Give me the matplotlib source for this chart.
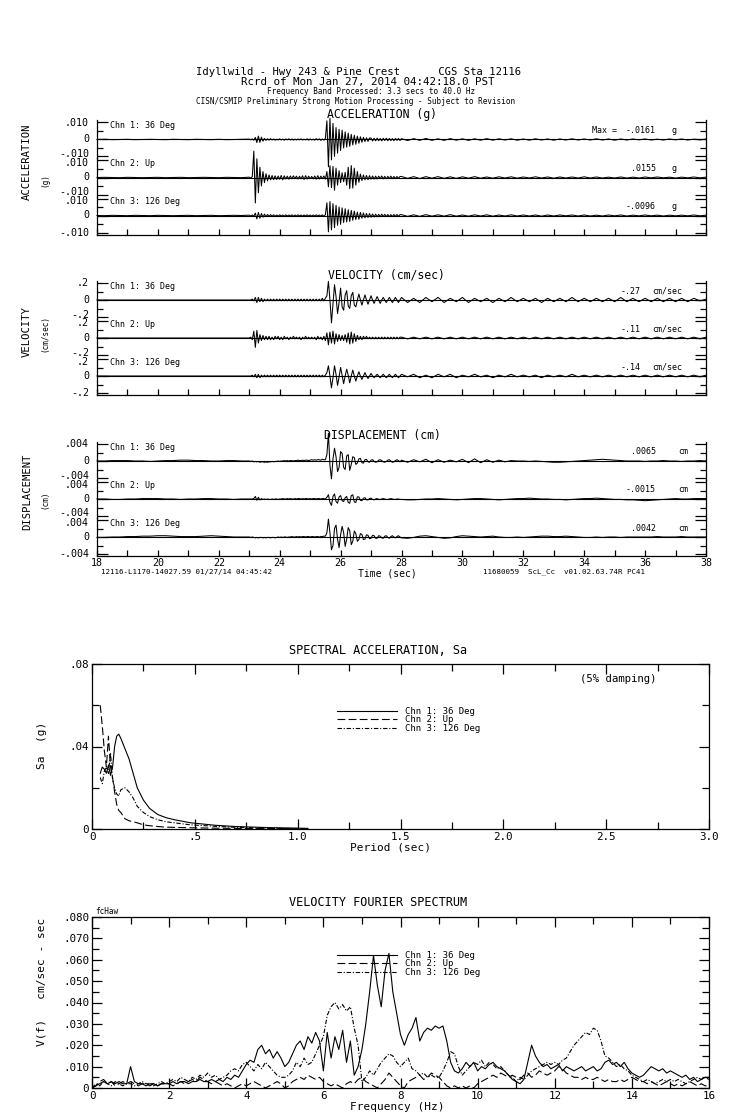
"""Record sheet: corrected strong-motion traces + response/Fourier spectra (CGS 12116)."""
import numpy as np
import matplotlib
matplotlib.use("Agg")
import matplotlib.pyplot as plt

plt.rcParams["font.family"] = "DejaVu Sans Mono"

# ---------------- data ----------------
CHANNELS = ["Chn 1: 36 Deg", "Chn 2: Up", "Chn 3: 126 Deg"]

# each trace in 3 pieces: A = 18-23 s, B = 23-28 s (dense), C = 28-38 s
# acceleration, 1e-4 g
ACC1_A = [0, 1, -1, 0, 1, -1, 0, 1, 0, -1, 1, 0, -1, 1, 0, -1, 1, -1, 0, 1]
ACC1_B = [2, -2, 3, -4, 12, -18, 20, -17, 14, -10,
          6, -5, 4, -4, 5, -3, 3, -4, 2, -3,
          4, -3, 2, -4, 3, -2, 4, -3, 3, -4,
          2, -3, 3, -2, 4, -3, 2, -3, 4, -4,
          3, -3, 2, -4, 5, -3, 4, -5, 3, -4,
          6, 110, -161, 125, -120, 95, -100, 70, -80, 60,
          -65, 55, -50, 45, -45, 38, -40, 30, -32, 25,
          -28, 20, -22, 16, -16, 13, -12, 10, -11, 9,
          8, -9, 7, -8, 8, -7, 6, -8, 7, -6,
          7, -7, 6, -6, 5, -7, 6, -5, 6, -6]
ACC1_C = [5, -6, 5, -5, 6, -5, 4, -5, 5, -4, 4, -5, 4, -4, 5, -4, 4, -3, 4, -4,
          3, -4, 4, -3, 3, -4, 3, -3, 4, -3, 3, -3, 4, -3, 3, -4, 3, -3, 3, -2,
          3, -3, 2, -3, 3, -2, 3, -3, 2, -2, 2]
ACC2_A = [0, 1, 0, -1, 1, 0, -1, 0, 1, -1, 0, 1, -1, 0, 1, 0, -1, 1, 0, -1]
ACC2_B = [2, -3, 5, 155, -150, 110, -90, 60, -50, 35,
          -30, 22, -20, 15, -14, 12, -13, 10, -12, 9,
          -11, 12, -14, 10, -9, 8, -10, 9, -8, 10,
          -7, 8, -9, 7, -8, 10, -12, 11, -9, 8,
          -7, 6, -8, 9, -10, 11, -9, 8, -7, 9,
          -10, 35, -55, 70, -60, 65, -75, 55, -45, 40,
          -30, 28, -25, 30, -45, 60, -65, 70, -62, 55,
          -45, 35, -28, 20, -18, 15, -14, 12, -13, 11,
          -10, 9, -10, 8, -9, 8, -7, 9, -8, 7,
          -8, 7, -6, 8, -7, 6, -7, 6, -5, 6]
ACC2_C = [6, -5, 5, -6, 5, -4, 5, -5, 4, -5, 4, -4, 5, -4, 3, -4, 4, -3, 4, -4,
          3, -3, 4, -3, 3, -4, 3, -3, 3, -3, 4, -3, 3, -3, 2, -3, 3, -3, 2, -3,
          3, -2, 3, -2, 2, -3, 2, -2, 3, -2, 2]
ACC3_A = [0, -1, 1, 0, -1, 1, 0, -1, 1, 0, -1, 0, 1, -1, 0, 1, -1, 0, 1, 0]
ACC3_B = [2, -3, 3, -5, 14, -20, 18, -16, 12, -10,
          8, -7, 6, -5, 5, -4, 4, -5, 3, -4,
          4, -3, 3, -4, 4, -3, 3, -3, 4, -4,
          3, -3, 4, -3, 3, -4, 3, -3, 4, -3,
          3, -4, 3, -3, 4, -3, 3, -4, 4, -5,
          5, 75, -96, 82, -85, 70, -72, 60, -58, 50,
          -52, 45, -42, 40, -38, 34, -35, 30, -28, 26,
          -24, 20, -22, 18, -16, 15, -14, 12, -12, 11,
          -10, 9, -9, 8, -8, 7, -7, 8, -6, 7,
          -6, 6, -7, 5, -6, 6, -5, 6, -5, 5]
ACC3_C = [5, -5, 4, -5, 5, -4, 4, -4, 5, -4, 3, -4, 4, -3, 4, -4, 3, -3, 4, -3,
          3, -3, 3, -4, 3, -3, 3, -2, 3, -3, 3, -3, 2, -3, 3, -2, 3, -3, 2, -2,
          3, -2, 2, -3, 2, -2, 2, -2, 3, -2, 2]

# velocity, 1e-2 cm/sec
VEL1_A = [0, 0, 0, 0, 0, 0, 0, 0, 0, 0, 0, 0, 0, 0, 0, 0, 0, 0, 0, 0]
VEL1_B = [0, 0, 1, -1, 3, -3, 3, -2, 2, -2,
          1, -1, 1, -1, 1, -1, 1, -1, 1, -1,
          1, -1, 1, -1, 1, -1, 1, -1, 1, -1,
          1, -1, 1, -1, 1, -1, 1, -1, 1, -1,
          1, -1, 1, -1, 1, -1, 1, -1, 2, -1,
          2, 5, 22, 0, -27, -5, 18, 4, -16, -3,
          14, -8, -12, 6, 11, -7, -10, 5, 9, -6,
          -8, 0, 7, 0, -6, 0, 6, 0, -5, 0,
          5, 0, -4, 0, 4, 0, -4, 0, 3, 0,
          -3, 0, 3, 0, -3, 0, 3, 0, -3, 0]
VEL1_C = [3, -3, 2, -3, 3, -2, 3, -3, 2, -2, 3, -3, 2, -2, 2, -3, 2, -2, 3, -2,
          2, -2, 2, -3, 2, -2, 2, -2, 3, -2, 2, -2, 2, -2, 2, -2, 3, -2, 2, -2,
          2, -2, 2, -2, 2, -2, 2, -2, 2, -1, 1]
VEL2_A = [0, 0, 0, 0, 0, 0, 0, 0, 0, 0, 0, 0, 0, 0, 0, 0, 0, 0, 0, 0]
VEL2_B = [0, 1, -2, 8, -11, 9, -6, 4, -3, 3,
          -2, 2, -2, 2, -2, 1, -2, 2, -1, 2,
          -2, 1, -2, 2, -1, 1, -2, 1, -1, 2,
          -1, 1, -1, 1, -2, 1, -1, 2, -1, 1,
          -1, 1, -1, 1, -2, 2, -1, 1, -2, 2,
          -3, 6, -8, 7, -6, 8, -7, 5, -4, 4,
          -3, 3, -3, 4, -5, 6, -7, 7, -6, 5,
          -4, 3, -2, 2, -2, 2, -1, 2, -1, 1,
          -1, 1, -1, 1, -1, 1, -1, 1, -1, 1,
          -1, 1, -1, 1, -1, 1, -1, 1, -1, 1]
VEL2_C = [1, -1, 1, -1, 1, -1, 1, -1, 1, -1, 1, -1, 1, -1, 1, -1, 1, -1, 1, -1,
          1, -1, 1, -1, 1, -1, 1, -1, 1, -1, 1, -1, 1, -1, 1, -1, 1, -1, 1, -1,
          1, -1, 1, -1, 1, -1, 1, -1, 1, -1, 1]
VEL3_A = [0, 0, 0, 0, 0, 0, 0, 0, 0, 0, 0, 0, 0, 0, 0, 0, 0, 0, 0, 0]
VEL3_B = [0, 0, 1, -1, 2, -2, 2, -2, 1, -1,
          1, -1, 1, -1, 1, -1, 1, -1, 1, -1,
          1, -1, 1, -1, 1, -1, 1, -1, 1, -1,
          1, -1, 1, -1, 1, -1, 1, -1, 1, -1,
          1, -1, 1, -1, 1, -1, 1, -1, 1, -1,
          1, 4, 12, 0, -14, -2, 12, 2, -11, -1,
          10, 1, -9, 0, 8, 1, -8, 0, 7, 0,
          -6, 0, 5, 0, -4, 0, 4, 0, -3, 0,
          3, 0, -2, 0, 2, 0, -2, 0, 2, 0,
          -2, 0, 2, 0, -2, 0, 2, 0, -2, 0]
VEL3_C = [2, -1, 2, -2, 1, -2, 2, -1, 2, -2, 1, -1, 2, -1, 1, -2, 1, -1, 2, -1,
          1, -1, 1, -2, 1, -1, 1, -1, 2, -1, 1, -1, 1, -1, 1, -1, 1, -1, 1, -1,
          1, -1, 1, -1, 1, -1, 1, -1, 1, -1, 1]

# displacement, 1e-4 cm
DIS1_A = [0, 0, 1, 1, 1, 0, 0, -1, 0, 1, 1, 2, 2, 1, 1, 0, 0, 1, 1, 0]
DIS1_B = [0, -1, 0, -2, -1, -2, -1, -3, -2, -2,
          -3, -2, -3, -2, -2, -1, -2, -1, -1, 0,
          -1, 0, 0, 1, 0, 1, 0, 1, 1, 0,
          1, 1, 2, 1, 1, 2, 1, 2, 2, 1,
          2, 3, 2, 3, 2, 3, 3, 2, 4, 3,
          3, 15, 65, -10, -42, 5, 30, 10, -25, -15,
          22, 18, -15, -20, 12, 15, -22, -8, 10, 8,
          -8, -5, 5, 6, -4, -5, 3, 4, -2, -3,
          2, 3, -1, -3, -2, 2, 3, 1, -2, -3,
          -1, 2, 3, 0, -3, -2, 1, 3, 1, -2]
DIS1_C = [2, -3, 3, -2, 4, -4, 3, -3, 2, -2,
          4, -4, 5, -4, 3, -3, 2, -2, 1, 0,
          0, -1, 0, -1, -2, -3, -3, -2, -1, 0,
          1, 2, 3, 4, 3, 2, 1, 0, 0, 0,
          -1, 0, 0, 1, 0, 0, -1, 0, 0, 1, 0]
DIS2_A = [0, 0, -1, -1, 0, 0, 1, 1, 1, 0, 0, -1, 0, 0, 1, 1, 0, 0, -1, 0]
DIS2_B = [0, 0, 0, 1, 6, -3, 4, -2, 1, -1,
          0, -1, 0, -1, -1, 0, -1, 0, 0, -1,
          0, 0, 1, 0, 0, 1, 0, 1, 0, 0,
          1, 0, 1, 1, 0, 1, 0, 1, 1, 0,
          1, 0, 1, 1, 0, 1, 1, 0, 1, 1,
          0, 4, 10, -8, -15, 6, 12, -6, -10, 5,
          8, -4, -6, 3, 6, -8, -10, 8, 10, -7,
          -8, 5, 5, -3, -4, 2, 3, -2, -2, 1,
          2, -1, -2, 0, 1, -1, -1, 0, 1, 0,
          -1, -1, 0, 1, 0, -1, -1, 0, 0, -1]
DIS2_C = [-1, -2, -2, -1, 0, 0, 1, 0, -1, -2,
          -1, 0, 1, 1, 0, -1, -2, -1, 0, 1,
          1, 2, 1, 0, 0, -1, -1, -2, -1, 0,
          1, 1, 2, 1, 0, -1, -1, -2, -2, -3,
          -4, -3, -2, -1, 0, 1, 0, 0, 1, 1, 1]
DIS3_A = [-1, -1, 0, 0, 1, 1, 2, 2, 3, 3, 2, 1, 1, 1, 2, 3, 2, 1, 0, 0]
DIS3_B = [0, -1, 0, -1, -2, -1, -2, -1, -1, -2,
          -1, -2, -1, -1, -2, -1, -1, -2, -1, 0,
          -1, 0, -1, 0, 0, -1, 0, 0, 1, 0,
          0, 1, 0, 1, 0, 1, 1, 0, 1, 1,
          0, 1, 1, 0, 1, 1, 0, 1, 1, 2,
          2, 10, 42, 10, -30, -20, 20, 28, -5, -25,
          5, 25, 10, -22, -5, 22, 15, -18, -10, 14,
          8, -10, -6, 8, 6, -6, -5, 5, 4, -4,
          -3, 4, 3, -3, -3, 3, 2, -2, -3, 2,
          3, -1, -3, 1, 3, 0, -2, 1, 3, 0]
DIS3_C = [-2, -3, -1, 2, 3, 1, -1, -3, -2, 1,
          3, 2, 1, 0, 1, 2, 0, -1, -1, 0,
          -1, 0, 1, 2, 2, 1, 1, 2, 1, 0,
          -1, -1, 0, -1, 0, 0, -1, 0, 0, 0,
          0, 0, 1, 0, 0, 0, 1, 0, 0, 0, 0]

ACC_PEAK = ["-.0161", ".0155", "-.0096"]
VEL_PEAK = ["-.27", "-.11", "-.14"]
DIS_PEAK = [".0065", "-.0015", ".0042"]

# spectral acceleration (5% damping), g
SA_PERIOD = [0.04, 0.05, 0.06, 0.07, 0.08, 0.09, 0.10, 0.11, 0.12, 0.13, 0.14, 0.16,
             0.18, 0.20, 0.22, 0.25, 0.28, 0.32, 0.36, 0.40, 0.48, 0.60, 0.70, 0.85, 1.05]
SA_CH1 = [0.027, 0.030, 0.029, 0.027, 0.031, 0.026, 0.030, 0.040, 0.045, 0.046, 0.044, 0.039,
          0.034, 0.027, 0.020, 0.014, 0.010, 0.007, 0.0055, 0.0045, 0.003, 0.0018, 0.0012, 0.0007, 0.0003]
SA_CH2 = [0.060, 0.050, 0.038, 0.030, 0.045, 0.030, 0.025, 0.018, 0.012, 0.009, 0.008, 0.005,
          0.004, 0.0035, 0.003, 0.002, 0.0016, 0.0012, 0.0009, 0.0008, 0.0006, 0.0004, 0.0003, 0.0002, 0.0001]
SA_CH3 = [0.025, 0.022, 0.028, 0.030, 0.027, 0.037, 0.024, 0.020, 0.017, 0.016, 0.019, 0.020,
          0.018, 0.015, 0.011, 0.008, 0.006, 0.0045, 0.0035, 0.003, 0.002, 0.0013, 0.0008, 0.0004, 0.0002]

# velocity Fourier amplitude, 1e-3 cm/sec-sec, 0..16 Hz every 0.1 Hz
FS_CH1 = [0, 1, 2, 3, 2, 3, 2, 3, 2, 2,
          10, 3, 2, 2, 1, 2, 2, 1, 2, 2,
          2, 3, 2, 3, 3, 2, 3, 3, 4, 3,
          3, 4, 3, 4, 3, 5, 4, 6, 5, 8,
          11, 13, 12, 18, 20, 16, 18, 14, 17, 14,
          10, 12, 16, 20, 22, 18, 24, 21, 26, 22,
          8, 26, 14, 24, 18, 27, 12, 22, 6, 10,
          18, 30, 45, 62, 48, 38, 55, 63, 45, 35,
          25, 20, 25, 28, 33, 22, 26, 28, 27, 29,
          28, 29, 22, 12, 8, 7, 9, 12, 10, 12,
          8, 10, 9, 11, 12, 10, 9, 8, 6, 4,
          3, 2, 4, 12, 20, 15, 12, 10, 11, 9,
          10, 11, 8, 10, 9, 8, 9, 10, 8, 9,
          10, 8, 9, 12, 13, 11, 12, 10, 12, 9,
          7, 6, 5, 6, 8, 10, 9, 8, 9, 7,
          8, 7, 6, 5, 6, 4, 5, 3, 4, 5,
          5]
FS_CH2 = [0, 1, 3, 4, 2, 3, 1, 2, 3, 2,
          3, 2, 1, 2, 2, 1, 2, 1, 2, 2,
          2, 1, 2, 3, 2, 3, 4, 3, 5, 4,
          3, 2, 3, 2, 1, 2, 1, 0, 1, 2,
          1, 2, 3, 2, 1, 0, 1, 2, 3, 2,
          0, 1, 3, 4, 5, 4, 6, 5, 4, 5,
          3, 2, 1, 2, 1, 0, 2, 3, 2, 4,
          5, 3, 2, 1, 0, 2, 4, 7, 5, 3,
          1, 0, 3, 4, 5, 6, 4, 5, 7, 6,
          5, 3, 1, 0, 1, 0, 1, 0, 1, 0,
          2, 3, 4, 5, 6, 5, 7, 6, 5, 6,
          5, 4, 6, 7, 5, 6, 8, 7, 6, 7,
          8, 10, 9, 7, 6, 5, 5, 4, 5, 4,
          4, 5, 4, 3, 4, 3, 3, 4, 3, 4,
          5, 4, 3, 3, 2, 3, 2, 1, 2, 3,
          2, 1, 2, 1, 2, 3, 2, 1, 2, 1,
          1]
FS_CH3 = [0, 2, 1, 3, 2, 1, 3, 2, 1, 2,
          2, 1, 2, 3, 2, 2, 1, 2, 3, 2,
          3, 4, 3, 5, 4, 3, 5, 4, 6, 5,
          7, 5, 6, 4, 5, 6, 8, 9, 8, 11,
          12, 10, 8, 11, 9, 12, 10, 8, 6, 5,
          5, 6, 8, 12, 10, 14, 11, 12, 16, 20,
          24, 34, 38, 40, 37, 39, 36, 38, 28, 20,
          3, 5, 8, 6, 9, 12, 14, 16, 15, 12,
          10, 12, 14, 9, 8, 6, 7, 5, 6, 5,
          5, 8, 12, 17, 16, 10, 6, 8, 10, 12,
          11, 13, 10, 12, 11, 9, 10, 8, 6, 5,
          3, 5, 4, 6, 8, 9, 10, 11, 12, 11,
          12, 11, 13, 14, 17, 20, 22, 24, 26, 25,
          28, 27, 22, 15, 14, 12, 10, 11, 9, 8,
          6, 5, 4, 3, 4, 3, 2, 3, 4, 3,
          4, 3, 4, 3, 2, 3, 4, 5, 4, 5,
          4]

# ---------------- layout helpers (pixel coords of a 739x1115 sheet) ----------------
W, H = 739, 1115
fig = plt.figure(figsize=(W / 100, H / 100), dpi=100)


def box(x0, y0, x1, y1):
    return [x0 / W, 1 - y1 / H, (x1 - x0) / W, (y1 - y0) / H]


def ptext(x, y, s, **kw):
    kw.setdefault("va", "center")
    fig.text(x / W, 1 - y / H, s, **kw)


def trace_time(a, b, c):
    return np.concatenate([np.linspace(18, 23, len(a), endpoint=False),
                           np.linspace(23, 28, len(b), endpoint=False),
                           np.linspace(28, 38, len(c))])


LS2 = (0, (7, 3))
LS3 = (0, (4, 1.6, 1, 1.6))

# header
ptext(359, 72, "Idyllwild - Hwy 243 & Pine Crest      CGS Sta 12116", ha="center", fontsize=7.6)
ptext(368, 82, "Rcrd of Mon Jan 27, 2014 04:42:18.0 PST", ha="center", fontsize=7.8)
ptext(371, 92, "Frequency Band Processed: 3.3 secs to 40.0 Hz", ha="center", fontsize=5.5)
ptext(356, 101, "CISN/CSMIP Preliminary Strong Motion Processing - Subject to Revision",
      ha="center", fontsize=5.5)

# ---------------- time histories ----------------
groups = [
    ([(ACC1_A, ACC1_B, ACC1_C), (ACC2_A, ACC2_B, ACC2_C), (ACC3_A, ACC3_B, ACC3_C)],
     1e-4, 0.010, ".010", "-.010", ACC_PEAK, "g"),
    ([(VEL1_A, VEL1_B, VEL1_C), (VEL2_A, VEL2_B, VEL2_C), (VEL3_A, VEL3_B, VEL3_C)],
     1e-2, 0.2, ".2", "-.2", VEL_PEAK, "cm/sec"),
    ([(DIS1_A, DIS1_B, DIS1_C), (DIS2_A, DIS2_B, DIS2_C), (DIS3_A, DIS3_B, DIS3_C)],
     1e-4, 0.004, ".004", "-.004", DIS_PEAK, "cm"),
]
g_top = [120.5, 281, 442]
g_side = [("ACCELERATION", 162, "(g)", 180), ("VELOCITY", 332, "(cm/sec)", 333),
          ("DISPLACEMENT", 492, "(cm)", 500)]
g_title = [("ACCELERATION (g)", 382), ("VELOCITY (cm/sec)", 386), ("DISPLACEMENT (cm)", 382)]
val_right = [656, 641, 656]
unit_left = [672, 652, 678]
SUB_H = 38

for gi, (traces, scale, tick, plab, nlab, peaks, unit) in enumerate(groups):
    top = g_top[gi]
    for k, (a, b, c) in enumerate(traces):
        y0 = top + SUB_H * k
        ax = fig.add_axes(box(97, y0, 706, y0 + SUB_H))
        ax.patch.set_visible(False)
        t = trace_time(a, b, c)
        v = np.concatenate([a, b, c]) * scale
        ax.axhline(0, color="k", lw=0.8)
        ax.plot(t, v, color="k", lw=0.75, clip_on=False)
        ax.set_xlim(18, 38)
        ax.set_ylim(-tick * 19 / 17, tick * 19 / 17)
        ax.set_yticks([-tick, 0, tick])
        ax.set_yticklabels([])
        ax.set_yticks([-tick / 2, tick / 2], minor=True)
        ax.tick_params(axis="y", which="major", direction="in", left=True, right=True,
                       length=8, width=0.9)
        ax.tick_params(axis="y", which="minor", direction="in", left=True, right=True,
                       length=4, width=0.9)
        # y labels drawn by hand so the stacked +/- labels can sit apart a little
        ptext(89, y0 + 2 + (2.5 if k > 0 else 0), plab, ha="right", fontsize=7.2)
        ptext(89, y0 + 19, "0", ha="right", fontsize=7.2)
        ptext(89, y0 + 36 - (2.5 if k < 2 else 0), nlab, ha="right", fontsize=7.2)
        ax.spines["top"].set_visible(False)
        for s in ("left", "right", "bottom"):
            ax.spines[s].set_linewidth(0.9)
        if k < 2:
            ax.spines["bottom"].set_visible(False)
            ax.tick_params(axis="x", which="both", bottom=False, labelbottom=False)
        else:
            ax.set_xticks(np.arange(18, 38.1, 2))
            ax.set_xticks(np.arange(19, 38, 2), minor=True)
            ax.tick_params(axis="x", which="both", direction="in", length=4, width=0.9,
                           labelsize=7.2, pad=1.5, labelbottom=(gi == 2))
        ptext(110, y0 + 5.5, CHANNELS[k], ha="left", fontsize=6)
        ptext(val_right[gi], y0 + 10, peaks[k], ha="right", fontsize=6)
        ptext(unit_left[gi], y0 + 10, unit, ha="left", fontsize=6)
        if gi == 0 and k == 0:
            ptext(592, y0 + 10, "Max =", ha="left", fontsize=6)
    name, ny, u, uy = g_side[gi]
    ptext(27, ny, name, ha="center", rotation=90, fontsize=7.6)
    ptext(45, uy, u, ha="center", rotation=90, fontsize=5.5)
    ptext(g_title[gi][1], top - 6, g_title[gi][0], ha="center", fontsize=8.3)

ptext(101, 572, "12116-L1170-14027.59 01/27/14 04:45:42", ha="left", fontsize=5.4)
ptext(387, 573, "Time (sec)", ha="center", fontsize=7)
ptext(483, 572, "11680059  ScL_Cc  v01.02.63.74R PC41", ha="left", fontsize=5.4)

# ---------------- spectral acceleration ----------------
ax = fig.add_axes(box(92, 664, 709, 829))
ax.plot(SA_PERIOD, SA_CH1, color="k", lw=0.8, label=CHANNELS[0])
ax.plot(SA_PERIOD, SA_CH2, color="k", lw=0.8, ls=LS2, label=CHANNELS[1])
ax.plot(SA_PERIOD, SA_CH3, color="k", lw=0.8, ls=LS3, label=CHANNELS[2])
ax.set_xlim(0, 3)
ax.set_ylim(0, 0.08)
ax.set_xticks(np.arange(0, 3.01, 0.5))
ax.set_xticklabels(["0", ".5", "1.0", "1.5", "2.0", "2.5", "3.0"])
ax.set_xticks(np.arange(0.25, 3, 0.5), minor=True)
ax.set_yticks([0, 0.04, 0.08])
ax.set_yticklabels(["0", ".04", ".08"])
ax.set_yticks([0.02, 0.06], minor=True)
ax.tick_params(which="both", direction="in", top=True, right=True, width=0.9,
               labelsize=7.8, pad=2)
ax.tick_params(which="major", length=7)
ax.tick_params(which="minor", length=5)
for s in ax.spines.values():
    s.set_linewidth(0.9)
ax.legend(loc="upper left", bbox_to_anchor=(0.389, 0.768), frameon=False, fontsize=6.5,
          handlelength=6.7, handletextpad=0.85, labelspacing=-0.05, borderpad=0)
ptext(580, 679, "(5% damping)", ha="left", fontsize=7.7)
ptext(378, 651, "SPECTRAL ACCELERATION, Sa", ha="center", fontsize=8.6)
ptext(390, 847, "Period (sec)", ha="center", fontsize=8)
ptext(42, 745, "Sa  (g)", ha="center", rotation=90, fontsize=8)

# ---------------- velocity Fourier spectrum ----------------
ax = fig.add_axes(box(92, 917, 709, 1088))
ax.plot(np.linspace(0, 16, len(FS_CH1)), np.array(FS_CH1) * 1e-3, color="k", lw=0.8,
        label=CHANNELS[0])
ax.plot(np.linspace(0, 16, len(FS_CH2)), np.array(FS_CH2) * 1e-3, color="k", lw=0.8,
        ls=LS2, label=CHANNELS[1])
ax.plot(np.linspace(0, 16, len(FS_CH3)), np.array(FS_CH3) * 1e-3, color="k", lw=0.8,
        ls=LS3, label=CHANNELS[2])
ax.set_xlim(0, 16)
ax.set_ylim(0, 0.08)
ax.set_xticks(np.arange(0, 16.1, 2))
ax.set_xticks(np.arange(1, 16, 2), minor=True)
yt = np.arange(0, 0.0801, 0.01)
ax.set_yticks(yt)
ax.set_yticklabels(["0"] + [f"{v:.3f}"[1:] for v in yt[1:]])
ax.set_yticks(np.arange(0.005, 0.08, 0.01), minor=True)
ax.tick_params(which="both", direction="in", top=True, right=True, width=0.9,
               labelsize=7.8, pad=2)
ax.tick_params(which="major", length=7)
ax.tick_params(which="minor", length=5)
for s in ax.spines.values():
    s.set_linewidth(0.9)
ax.legend(loc="upper left", bbox_to_anchor=(0.389, 0.828), frameon=False, fontsize=6.5,
          handlelength=6.7, handletextpad=0.85, labelspacing=-0.05, borderpad=0)
ptext(378, 903, "VELOCITY FOURIER SPECTRUM", ha="center", fontsize=8.6)
ptext(95, 912, "fcHaw", ha="left", fontsize=5.5)
ptext(397, 1107, "Frequency (Hz)", ha="center", fontsize=8)
ptext(42, 982, "V(f)   cm/sec - sec", ha="center", rotation=90, fontsize=8)

fig.savefig("out.png", dpi=100)
